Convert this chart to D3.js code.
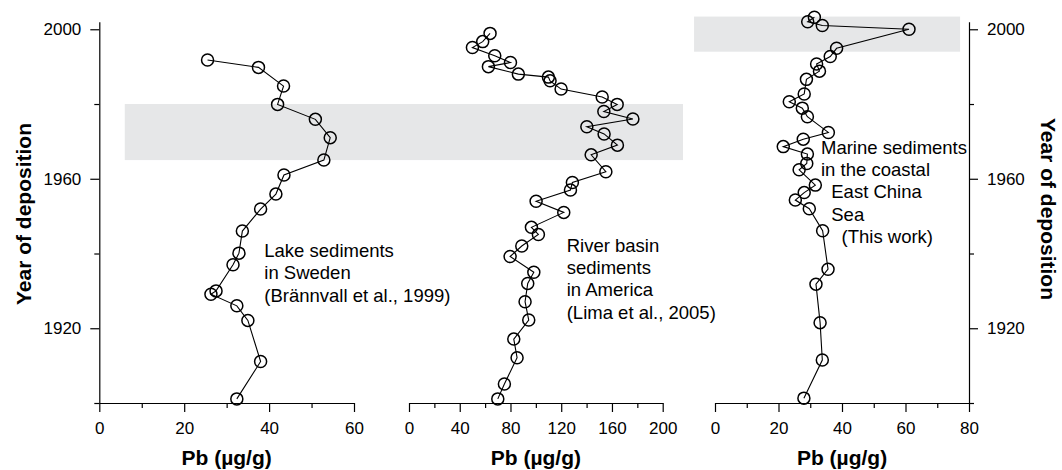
<!DOCTYPE html>
<html>
<head>
<meta charset="utf-8">
<script src="https://cdn.jsdelivr.net/npm/d3@7"></script>
<style>
  html,body{margin:0;padding:0;background:#fff}
  svg{display:block;font-family:"Liberation Sans",Arial,Helvetica,sans-serif}
  .axis path,.axis line{stroke:#000;stroke-width:1.2}
  .axis text{font-size:17px;fill:#000;font-family:"Liberation Sans",Arial,sans-serif}
</style>
</head>
<body>
<div id="chart"></div>
<script>
// Pb profiles: [Pb µg/g, year]
const swedenPb   = [25.5,37.5,43.4,42.0,50.9,54.4,52.9,43.5,41.6,38.0,33.7,32.9,31.5,27.5,26.3,32.4,35.0,38.0,32.4];
const swedenYear = [1991.8,1989.8,1984.8,1979.9,1975.9,1971.0,1965.0,1961.0,1955.9,1951.9,1946.0,1940.1,1937.0,1930.0,1929.1,1926.0,1922.1,1911.1,1901.1];

const americaPb   = [63.9,58.1,50.0,67.6,80.0,62.6,86.2,109.9,111.2,119.9,152.3,164.1,153.6,176.5,140.2,153.8,164.3,143.6,155.2,128.8,127.3,100.2,122.0,96.5,102.0,88.9,79.7,98.4,93.6,91.5,94.4,82.6,85.2,75.2,70.0];
const americaYear = [1998.9,1996.7,1995.1,1992.9,1991.1,1990.0,1988.0,1987.2,1986.2,1984.0,1981.9,1979.9,1978.0,1976.0,1973.9,1972.0,1969.0,1966.4,1961.9,1959.0,1957.0,1954.0,1951.0,1947.0,1945.1,1942.0,1939.2,1935.0,1932.0,1927.1,1922.2,1917.1,1912.1,1905.1,1901.1];

const ecsPb   = [31.3,29.2,33.8,61.1,38.3,36.3,32.0,32.9,28.8,28.1,23.4,27.5,29.1,35.7,27.8,21.5,29.1,28.9,26.5,31.6,28.1,25.3,29.7,33.9,35.6,31.8,33.1,33.8,28.0];
const ecsYear = [2003.2,2002.0,2001.0,2000.0,1994.9,1992.7,1990.7,1988.8,1986.6,1982.7,1980.6,1978.9,1976.6,1972.4,1970.6,1968.6,1966.6,1964.1,1962.4,1958.3,1956.3,1954.3,1952.0,1946.1,1935.8,1931.8,1921.5,1911.5,1901.3];

const yearDomain = [1900, 2002];
const yearMajor = [1920, 1960, 2000];
const yearMinor = [1900, 1940, 1980];

const panels = [
  {pb: swedenPb,  yr: swedenYear,  dom: [0, 60],  major: [0,20,40,60],          minor: [10,30,50],
   label: ['Lake sediments','in Sweden','(Brännvall et al., 1999)']},
  {pb: americaPb, yr: americaYear, dom: [0, 200], major: [0,40,80,120,160,200], minor: [20,60,100,140,180],
   label: ['River basin','sediments','in America','(Lima et al., 2005)']},
  {pb: ecsPb,     yr: ecsYear,     dom: [0, 80],  major: [0,20,40,60,80],       minor: [10,30,50,70],
   label: ['Marine sediments','in the coastal','  East China','  Sea','    (This work)']}
];
// shaded periods: [pbFrom, pbTo, yearFrom, yearTo]
const band12 = [6, 216, 1965, 1980];   // spans panels 1–2 (from panel-1 Pb to panel-2 Pb)
const band3  = [-6.6, 77.2, 1994, 2003.4];

const W = 1062, H = 470;
const ranges = [[99.3, 354], [409, 662.7], [715, 969]];
const labelPos = [[264.3, 257], [566.7, 251.5], [821, 153.5]];

const svg = d3.select('#chart').append('svg').attr('width', W).attr('height', H);
const y = d3.scaleLinear().domain(yearDomain).range([403, 21.8]);
panels.forEach((p, i) => p.x = d3.scaleLinear().domain(p.dom).range(ranges[i]));

// bands
svg.append('rect').attr('fill', '#e6e7e8')
  .attr('x', panels[0].x(band12[0])).attr('width', panels[1].x(band12[1]) - panels[0].x(band12[0]))
  .attr('y', y(band12[3])).attr('height', y(band12[2]) - y(band12[3]));
svg.append('rect').attr('fill', '#e6e7e8')
  .attr('x', panels[2].x(band3[0])).attr('width', panels[2].x(band3[1]) - panels[2].x(band3[0]))
  .attr('y', y(band3[3])).attr('height', y(band3[2]) - y(band3[3]));

panels.forEach((p, i) => {
  const pts = p.pb.map((v, k) => [v, p.yr[k]]);
  const line = d3.line().x(d => p.x(d[0])).y(d => y(d[1]));
  svg.append('path').datum(pts).attr('d', line).attr('fill', 'none').attr('stroke', '#000').attr('stroke-width', 1.1);
  svg.append('g').selectAll('circle').data(pts).join('circle')
    .attr('cx', d => p.x(d[0])).attr('cy', d => y(d[1])).attr('r', 6)
    .attr('fill', 'none').attr('stroke', '#000').attr('stroke-width', 1.5);

  // x axis
  const gx = svg.append('g').attr('class', 'axis').attr('transform', `translate(0,${y(1900)})`);
  gx.call(d3.axisBottom(p.x).tickValues(p.major).tickSize(9).tickSizeOuter(0).tickFormat(d3.format('d')));
  gx.selectAll('text').attr('y', 31).attr('dy', 0);
  const gm = svg.append('g').attr('class', 'axis').attr('transform', `translate(0,${y(1900)})`);
  gm.call(d3.axisBottom(p.x).tickValues(p.minor).tickSize(5).tickFormat(''));
  gm.select('.domain').remove();

  svg.append('text').attr('x', (ranges[i][0] + ranges[i][1]) / 2).attr('y', 465)
    .attr('text-anchor', 'middle').attr('font-size', 21).attr('font-weight', 'bold').text('Pb (µg/g)');

  const t = svg.append('text').attr('font-size', 18.5).attr('xml:space', 'preserve')
    .attr('x', labelPos[i][0]).attr('y', labelPos[i][1]);
  p.label.forEach((s, k) => t.append('tspan').attr('x', labelPos[i][0]).attr('dy', k ? 22.4 : 0)
    .style('white-space', 'pre').text(s));
});

// y axes
function yAxis(x, gen, dir) {
  const g = svg.append('g').attr('class', 'axis').attr('transform', `translate(${x},0)`);
  g.call(gen(y).tickValues(yearMajor).tickSize(9).tickSizeOuter(0).tickFormat(d3.format('d')));
  g.selectAll('text').attr('x', dir * 18);
  const m = svg.append('g').attr('class', 'axis').attr('transform', `translate(${x},0)`);
  m.call(gen(y).tickValues(yearMinor).tickSize(5).tickFormat(''));
  m.select('.domain').remove();
}
yAxis(ranges[0][0], d3.axisLeft, -1);
yAxis(ranges[2][1], d3.axisRight, 1);

svg.append('text').attr('transform', 'translate(31,214) rotate(-90)').attr('text-anchor', 'middle')
  .attr('font-size', 21).attr('font-weight', 'bold').text('Year of deposition');
svg.append('text').attr('transform', 'translate(1041,209) rotate(90)').attr('text-anchor', 'middle')
  .attr('font-size', 21).attr('font-weight', 'bold').text('Year of deposition');
</script>
</body>
</html>
